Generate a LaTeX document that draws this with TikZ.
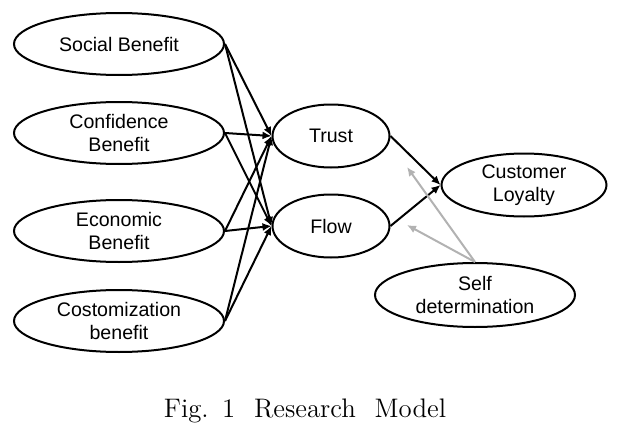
\documentclass[tikz,border=0pt]{standalone}
\usepackage{fontspec}
\newfontfamily\diagfont{Liberation Sans}
\usetikzlibrary{arrows.meta,shapes.geometric}

\begin{document}
\begin{tikzpicture}[x=0.5pt, y=-0.5pt,
        main/.style = {draw, ellipse, line width=1pt, inner sep=0pt, align=center,
            font=\diagfont\fontsize{9.8}{11.6}\selectfont},
        src/.style = {main, minimum width=105pt, minimum height=31pt},
        mid/.style = {main, minimum width=58.5pt, minimum height=31.5pt},
        link/.style = {-{Latex[length=4.5pt,width=4pt]}, line width=1pt},
        mod/.style = {-{Latex[length=4.5pt,width=4pt]}, line width=1pt, gray!60}]
            \useasboundingbox (0,0) rectangle (627,428);

            \node[src] (SB) at (119,44) {Social Benefit};
            \node[src] (CB) at (119,133) {Confidence\\Benefit};
            \node[src] (EB) at (119,231) {Economic\\Benefit};
            \node[src] (CuB) at (119,321) {Costomization\\benefit};

            \node[mid] (T) at (331,136) {Trust};
            \node[mid] (F) at (331,226) {Flow};
            \node[main, minimum width=82.5pt, minimum height=31.5pt] (L) at (524,185) {Customer\\Loyalty};
            \node[main, minimum width=100pt, minimum height=32pt] (SD) at (475,295) {Self\\determination};

            \coordinate (mT) at (407,167);
            \coordinate (mF) at (407,225);

            \foreach \s in {SB,CB,EB,CuB} {
                \path[link] (\s.east) edge (T.west);
                \path[link] (\s.east) edge (F.west);
            }
            \path[link] (T.east) edge (L.west);
            \path[link] (F.east) edge (L.west);

            \path[mod] (SD.north) edge (mT);
            \path[mod] (SD.north) edge (mF);

            \node[anchor=base, font=\fontsize{13.4}{15}\selectfont] (cap) at (305,417) {Fig.\hspace{0.5em}1\hspace{0.7em}Research\hspace{0.7em}Model};
        \end{tikzpicture}
\end{document}
